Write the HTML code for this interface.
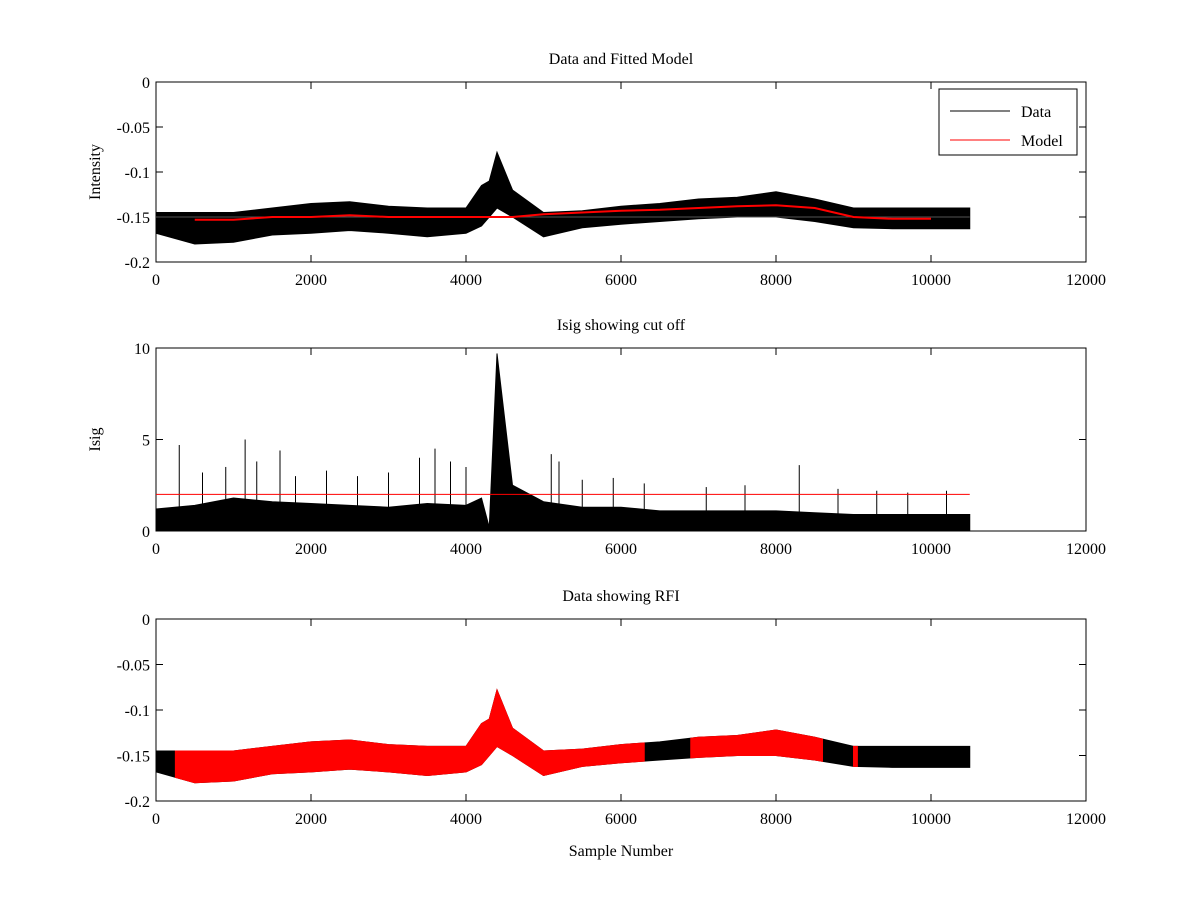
<!DOCTYPE html>
<html><head><meta charset="utf-8"><style>
body{margin:0;background:#fff}
svg text{font-family:"Liberation Serif",serif;font-size:16px;fill:#000}
</style></head><body>
<svg id="c" width="1200" height="900"></svg>
<script>
const xs=[0,500,1000,1500,2000,2500,3000,3500,4000,4200,4300,4400,4600,5000,5500,6000,6500,7000,7500,8000,8500,9000,9500,10000,10500];
const dataUpper=[-0.145,-0.145,-0.145,-0.140,-0.135,-0.133,-0.138,-0.140,-0.140,-0.115,-0.110,-0.078,-0.120,-0.145,-0.143,-0.138,-0.135,-0.130,-0.128,-0.122,-0.130,-0.140,-0.140,-0.140,-0.140];
const dataLower=[-0.168,-0.180,-0.178,-0.170,-0.168,-0.165,-0.168,-0.172,-0.168,-0.160,-0.150,-0.140,-0.150,-0.172,-0.162,-0.158,-0.155,-0.152,-0.150,-0.150,-0.155,-0.162,-0.163,-0.163,-0.163];
const modelY=[-0.153,-0.153,-0.153,-0.150,-0.150,-0.148,-0.150,-0.150,-0.150,-0.150,-0.150,-0.150,-0.150,-0.147,-0.145,-0.143,-0.142,-0.140,-0.138,-0.137,-0.140,-0.150,-0.152,-0.152,-0.152];
const isigUpper=[1.2,1.4,1.8,1.6,1.5,1.4,1.3,1.5,1.4,1.8,0.2,9.7,2.5,1.6,1.3,1.3,1.1,1.1,1.1,1.1,1.0,0.9,0.9,0.9,0.9];
const isigSpikeX=[300,600,900,1150,1300,1600,1800,2200,2600,3000,3400,3600,3800,4000,5100,5200,5500,5900,6300,7100,7600,8300,8800,9300,9700,10200];
const isigSpikeY=[4.7,3.2,3.5,5,3.8,4.4,3.0,3.3,3.0,3.2,4.0,4.5,3.8,3.5,4.2,3.8,2.8,2.9,2.6,2.4,2.5,3.6,2.3,2.2,2.1,2.2];
const cutoff=2;
const rfiRanges=[[250,6300],[6900,8600],[9000,9050]];
const xTicks=[0,2000,4000,6000,8000,10000,12000];
const yTicks1=[0,-0.05,-0.1,-0.15,-0.2];
const yTicks2=[0,5,10];
const svg=document.getElementById('c');
const NS='http://www.w3.org/2000/svg';
function el(t,a,p){const e=document.createElementNS(NS,t);for(const k in a)e.setAttribute(k,a[k]);(p||svg).appendChild(e);return e;}
const X=v=>156+v/12000*930;
function panel(top,bot,ymin,ymax,yt,title,ylab,name){
  const g=el('g',{});
  
  
  const Y=v=>bot-(v-ymin)/(ymax-ymin)*(bot-top);
  el('rect',{x:156,y:top,width:930,height:bot-top,fill:'#fff',stroke:'#000'},g);
  xTicks.forEach(t=>{el('line',{x1:X(t),x2:X(t),y1:bot,y2:bot-7,stroke:'#000'},g);el('line',{x1:X(t),x2:X(t),y1:top,y2:top+7,stroke:'#000'},g);
    const tx=el('text',{x:X(t),y:bot+23,'text-anchor':'middle'},g);tx.textContent=t;});
  yt.forEach(t=>{el('line',{x1:156,x2:163,y1:Y(t),y2:Y(t),stroke:'#000'},g);el('line',{x1:1086,x2:1079,y1:Y(t),y2:Y(t),stroke:'#000'},g);
    const tx=el('text',{x:150,y:Y(t)+6,'text-anchor':'end'},g);tx.textContent=t;});
  const tt=el('text',{x:621,y:top-18,'text-anchor':'middle'},g);tt.textContent=title;
  
  if(ylab){const yl=el('text',{x:100,y:(top+bot)/2,'text-anchor':'middle',transform:`rotate(-90 100 ${(top+bot)/2})`},g);yl.textContent=ylab;}
  return {g,Y};
}
function band(g,Y,up,lo,color,x0,x1){
  let pts=[],back=[];
  const interp=(arr,x)=>{for(let i=0;i<xs.length-1;i++)if(x<=xs[i+1]){const f=(x-xs[i])/(xs[i+1]-xs[i]);return arr[i]+f*(arr[i+1]-arr[i]);}return arr[arr.length-1];};
  const sel=[x0,...xs.filter(x=>x>x0&&x<x1),x1];
  sel.forEach(x=>{pts.push(X(x)+','+Y(interp(up,x)));back.unshift(X(x)+','+Y(lo?interp(lo,x):0));});
  return el('polygon',{points:pts.concat(back).join(' '),fill:color,stroke:color,'stroke-width':1},g);
}
// panel 1
const p1=panel(82,262,-0.2,0,yTicks1,'Data and Fitted Model','Intensity','panel-data-model');
const d1=band(p1.g,p1.Y,dataUpper,dataLower,'#000',0,10500);

el('line',{x1:X(0),x2:X(10500),y1:p1.Y(-0.15),y2:p1.Y(-0.15),stroke:'#555'},p1.g);
const m=el('polyline',{points:xs.slice(1,24).map((x,i)=>X(x)+','+p1.Y(modelY[i+1])).join(' '),fill:'none',stroke:'#f00','stroke-width':2},p1.g);

const lg=el('g',{},p1.g);


el('rect',{x:939,y:89,width:138,height:66,fill:'#fff',stroke:'#000'},lg);
el('line',{x1:950,x2:1010,y1:111,y2:111,stroke:'#000'},lg);
el('line',{x1:950,x2:1010,y1:140,y2:140,stroke:'#f00'},lg);
let t=el('text',{x:1021,y:117},lg);t.textContent='Data';
t=el('text',{x:1021,y:146},lg);t.textContent='Model';
// panel 2
const p2=panel(348,531,0,10,yTicks2,'Isig showing cut off','Isig','panel-isig');
const d2=band(p2.g,p2.Y,isigUpper,null,'#000',0,10500);

isigSpikeX.forEach((x,i)=>{const s=el('line',{x1:X(x),x2:X(x),y1:p2.Y(0),y2:p2.Y(isigSpikeY[i]),stroke:'#000'},p2.g);
});
const cl=el('line',{x1:X(0),x2:X(10500),y1:p2.Y(cutoff),y2:p2.Y(cutoff),stroke:'#f00'},p2.g);

// panel 3
const p3=panel(619,801,-0.2,0,yTicks1,'Data showing RFI','','panel-rfi');
const d3=band(p3.g,p3.Y,dataUpper,dataLower,'#000',0,10500);

rfiRanges.forEach(r=>{const b=band(p3.g,p3.Y,dataUpper,dataLower,'#f00',r[0],r[1]);
});
const xl=el('text',{x:621,y:856,'text-anchor':'middle'});xl.textContent='Sample Number';

</script>
</body></html>
